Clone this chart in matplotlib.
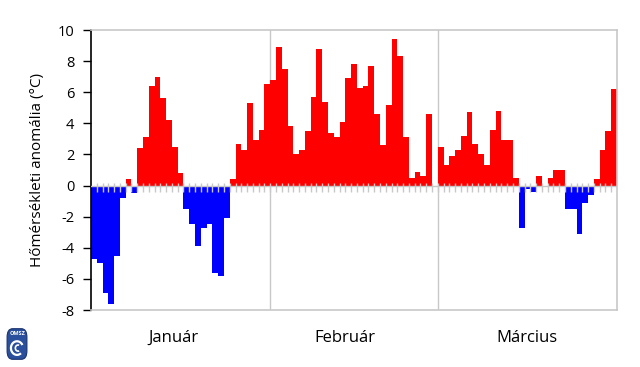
"""Daily temperature anomaly bars for January-March (OMSZ style)."""

import matplotlib

matplotlib.use("Agg")
import matplotlib.pyplot as plt
import numpy as np
from matplotlib.patches import FancyBboxPatch, Arc

plt.rcParams["font.family"] = ["Open Sans", "DejaVu Sans"]
plt.rcParams["axes.unicode_minus"] = False

MONTHS = ["Január", "Február", "Március"]
JAN = [-4.7, -5.0, -6.9, -7.6, -4.5, -0.8, 0.4, -0.5, 2.4, 3.1,
       6.4, 7.0, 5.6, 4.2, 2.5, 0.8, -1.5, -2.5, -3.9, -2.7,
       -2.5, -5.6, -5.8, -2.1, 0.4, 2.7, 2.3, 5.3, 2.9, 3.6, 6.5]
FEB = [6.8, 8.9, 7.5, 3.8, 2.0, 2.3, 3.5, 5.7, 8.8, 5.4,
       3.4, 3.1, 4.1, 6.9, 7.8, 6.3, 6.4, 7.7, 4.6, 2.6,
       5.2, 9.4, 8.3, 3.1, 0.5, 0.9, 0.6, 4.6, 0.0]
MAR = [2.5, 1.3, 1.9, 2.3, 3.2, 4.7, 2.7, 2.0, 1.3, 3.6,
       4.8, 2.9, 2.9, 0.5, -2.7, -0.2, -0.4, 0.6, 0.0, 0.5,
       1.0, 1.0, -1.5, -1.5, -3.1, -1.1, -0.6, 0.4, 2.3, 3.5, 6.2]
Y_TICKS = [10, 8, 6, 4, 2, 0, -2, -4, -6, -8]

GRAY = "#c8c8c8"
LABEL_SHIFT = [-1.2, -1.6, 0.0]  # month labels sit a bit left of centre (days)

values = np.array(JAN + FEB + MAR)
lengths = [len(JAN), len(FEB), len(MAR)]
edges = np.concatenate([[0], np.cumsum(lengths)])
x = np.arange(len(values)) + 0.5
colors = np.where(values >= 0, "#ff0000", "#0000ff")

fig = plt.figure(figsize=(6.4, 3.67), dpi=100)
ax = fig.add_axes([91 / 640, 1 - 310 / 367, 526 / 640, 280 / 367])

ax.bar(x, values, width=1.0, color=colors, linewidth=0, zorder=2)

# month separators
for e in edges[1:-1]:
    ax.axvline(e, color=GRAY, lw=1, zorder=1)

# zero line with day ticks
ax.axhline(0, color=GRAY, lw=1, zorder=3)
ax.vlines(np.arange(1, len(values)), -0.4, 0.15, color=GRAY, lw=1, zorder=3)

ax.set_xlim(0, len(values))
ax.set_ylim(-8, 10)
ax.set_yticks(Y_TICKS)
ax.set_yticklabels([str(t) for t in Y_TICKS], fontsize=10.5)
ax.tick_params(axis="y", direction="out", length=6, width=1, color="black", pad=6)
ax.set_xticks([])

for side in ["top", "right", "bottom"]:
    ax.spines[side].set_color(GRAY)
    ax.spines[side].set_linewidth(1.2)
ax.spines["left"].set_color("black")
ax.spines["left"].set_linewidth(1.2)

ax.set_ylabel("Hőmérsékleti anomália (°C)", fontsize=11, labelpad=9)

for i, name in enumerate(MONTHS):
    mid = (edges[i] + edges[i + 1]) / 2 + LABEL_SHIFT[i]
    ax.text(mid, -9.3, name, ha="center", va="top", fontsize=12)

# OMSZ logo
lax = fig.add_axes([6 / 640, 1 - 361 / 367, 22 / 640, 34 / 367])
lax.set_xlim(0, 1)
lax.set_ylim(0, 1)
lax.axis("off")
lax.add_patch(FancyBboxPatch((0.05, 0.05), 0.9, 0.9,
                             boxstyle="round,pad=0,rounding_size=0.25",
                             facecolor="#2a4f9c", edgecolor="#1a3370", lw=0.8))
lax.text(0.5, 0.8, "OMSZ", color="white", fontsize=4, fontweight="bold",
         ha="center", va="center")
lax.add_patch(Arc((0.5, 0.38), 0.55, 0.4, theta1=20, theta2=320,
                  color="white", lw=1.6))
lax.add_patch(Arc((0.55, 0.38), 0.25, 0.18, theta1=60, theta2=300,
                  color="white", lw=1.2))

fig.savefig("out.png", dpi=100)
